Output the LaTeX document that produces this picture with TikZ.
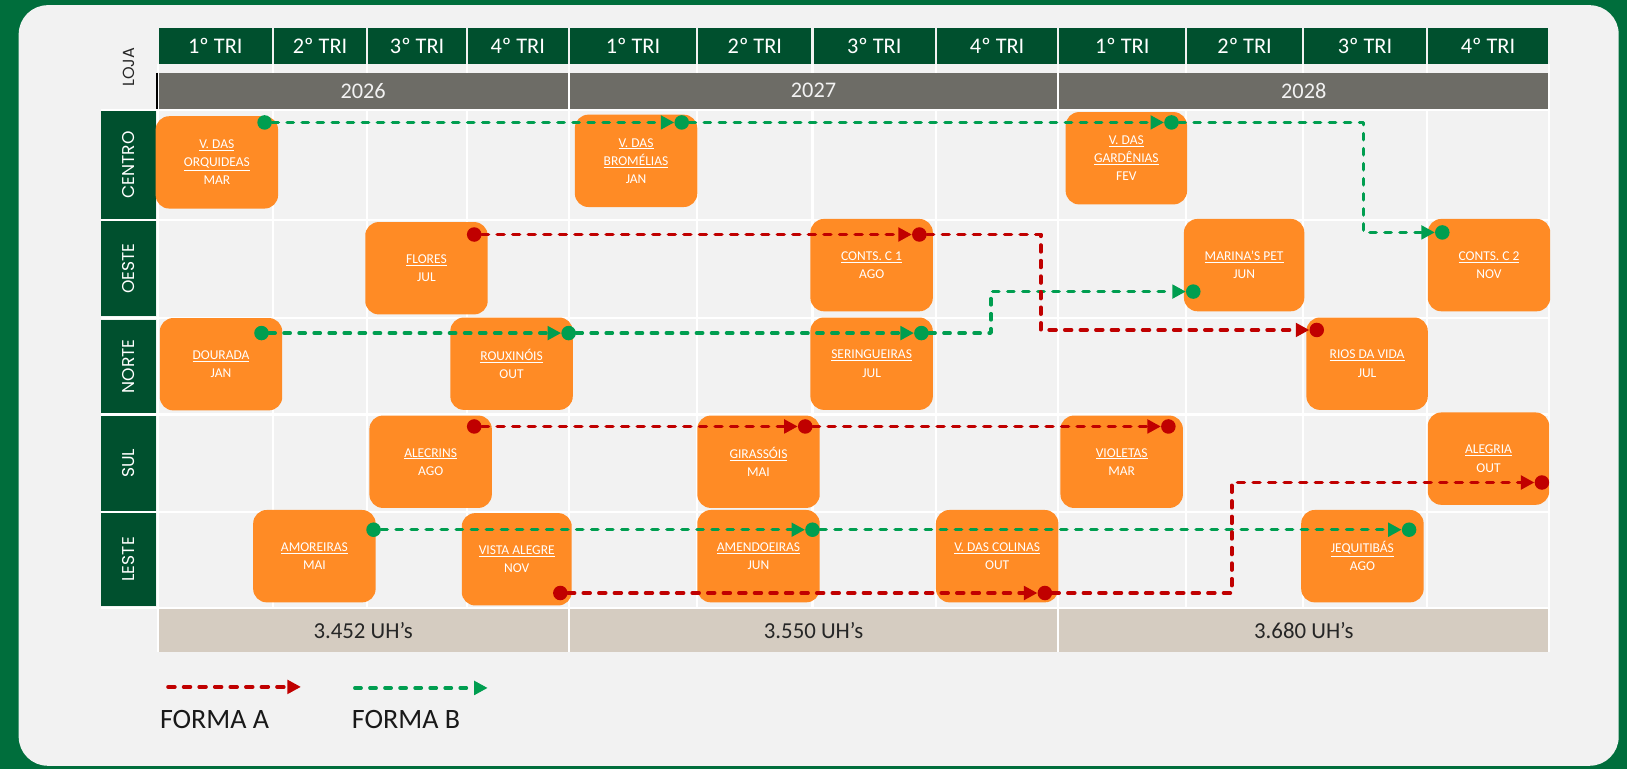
\documentclass[tikz,border=0pt]{standalone}
\usepackage{fontspec}
\setmainfont{Carlito}
\newfontfamily\geofont{Poppins}
\usetikzlibrary{arrows.meta,positioning}
\definecolor{fundo}{RGB}{0,110,60}
\definecolor{painel}{RGB}{242,242,242}
\definecolor{verdeesc}{RGB}{0,80,46}
\definecolor{cinza}{RGB}{109,108,102}
\definecolor{areia}{RGB}{213,204,193}
\definecolor{laranja}{RGB}{255,139,37}
\definecolor{verdeB}{RGB}{0,158,80}
\definecolor{vermA}{RGB}{192,0,0}

\begin{document}
\begin{tikzpicture}[
x=1pt,y=-1pt,
>={Triangle[length=13pt,width=13pt]},
tri/.style={
	fill=verdeesc,
	text=white,
	minimum height=35,
	inner sep=0pt,
	font=\fontsize{21.5}{25}\selectfont
},
ano/.style={
	fill=cinza,
	text=painel,
	minimum height=35,
	inner sep=0pt,
	font=\fontsize{21.5}{25}\selectfont
},
uh/.style={
	fill=areia,
	text=black!85,
	minimum height=41,
	inner sep=0pt,
	font=\fontsize{22}{26}\selectfont
},
regiao/.style={
	fill=verdeesc,
	text=white,
	rotate=90,
	minimum height=53,
	inner sep=0pt,
	font=\geofont\fontsize{16.5}{19}\selectfont
},
grade/.style={
	draw=white,
	line width=2pt
},
loja/.style={
	fill=laranja,
	rounded corners=13pt,
	minimum width=118,
	minimum height=89,
	text=white,
	align=center,
	inner sep=2pt,
	font=\fontsize{13}{17.5}\selectfont
},
pontoA/.style={
	circle,
	fill=vermA,
	minimum size=14,
	inner sep=0pt
},
pontoB/.style={
	circle,
	fill=verdeB,
	minimum size=14,
	inner sep=0pt
},
formaA/.style={
	draw=vermA,
	line width=3.6pt,
	dash pattern=on 6.5pt off 8.5pt,
	line cap=round,
	line join=round
},
formaB/.style={
	draw=verdeB,
	line width=3.4pt,
	dash pattern=on 6pt off 8.5pt,
	line cap=round,
	line join=round
}
]
\useasboundingbox (0,0) rectangle (1568,741);
\fill[fundo] (0,0) rectangle (1568,741);
\fill[painel,rounded corners=28pt] (18,5) rectangle (1560,738);

\foreach \x in {152,263,354,450,548,672,783,902,1020,1143,1256,1375,1493}
\draw[grade] (\x,62) -- (\x,628);
\foreach \y in {106,212,306.5,399.5,493,586}
\draw[grade] (97,\y) -- (1493,\y);

\foreach \i/\a/\b/\t in {1/152/263/1,2/263/354/2,3/354/450/3,4/450/548/4,5/548/672/1,6/672/783/2,7/783/902/3,8/902/1020/4,9/1020/1143/1,10/1143/1256/2,11/1256/1375/3,12/1375/1493/4}
\node[tri,minimum width=\b-\a-2] (q\i) at ({(\a+\b)/2},44.5) {\t{}º TRI};

\foreach \i/\a/\b/\t in {1/152/548/2026,2/548/1020/2027,3/1020/1493/2028}
\node[ano,minimum width=\b-\a-2] (ano\i) at ({(\a+\b)/2},87.5) {\t};
\draw[black,line width=2pt] (151,70) -- (151,105);

\foreach \i/\a/\b/\t in {1/152/548/3.452,2/548/1020/3.550,3/1020/1493/3.680}
\node[uh,minimum width=\b-\a-2] (uh\i) at ({(\a+\b)/2},607.5) {\t{} UH’s};

\foreach \n/\y/\h/\t in {centro/159/104/CENTRO,oeste/259/92/OESTE,norte/353/90/NORTE,sul/446.5/91/SUL,leste/539/90/LESTE}
\node[regiao,minimum width=\h] (\n) at (123.5,\y) {\t};

\node[rotate=90,text=black!85,font=\geofont\fontsize{15.5}{18}\selectfont] (lojas) at (124,65) {LOJA};

\node[loja] (orq) at (209,156.5) {\underline{V. DAS}\\\underline{ORQUIDEAS}\\MAR};
\node[loja] (brom) at (613,155) {\underline{V. DAS}\\\underline{BROMÉLIAS}\\JAN};
\node[loja,minimum width=117] (gard) at (1085.5,152.5) {\underline{V. DAS}\\\underline{GARDÊNIAS}\\FEV};
\node[loja] (flores) at (411,258.5) {\underline{FLORES}\\JUL};
\node[loja] (contsa) at (840,255.5) {\underline{CONTS. C 1}\\AGO};
\node[loja,minimum width=116] (marina) at (1199,255.5) {\underline{MARINA’S PET}\\JUN};
\node[loja] (contsb) at (1435,255.5) {\underline{CONTS. C 2}\\NOV};
\node[loja] (dourada) at (213,351) {\underline{DOURADA}\\JAN};
\node[loja] (roux) at (493,350.5) {\underline{ROUXINÓIS}\\OUT};
\node[loja] (sering) at (840,350.5) {\underline{SERINGUEIRAS}\\JUL};
\node[loja,minimum width=117] (rios) at (1317.5,350.5) {\underline{RIOS DA VIDA}\\JUL};
\node[loja] (alecrins) at (415,445) {\underline{ALECRINS}\\AGO};
\node[loja] (girassois) at (731,445) {\underline{GIRASSÓIS}\\MAI};
\node[loja] (violetas) at (1081,445) {\underline{VIOLETAS}\\MAR};
\node[loja,minimum width=117] (alegria) at (1434.5,442) {\underline{ALEGRIA}\\OUT};
\node[loja] (amoreiras) at (303,536) {\underline{AMOREIRAS}\\MAI};
\node[loja,minimum width=106] (vista) at (498,539) {\underline{VISTA ALEGRE}\\NOV};
\node[loja] (amendoeiras) at (731,536) {\underline{AMENDOEIRAS}\\JUN};
\node[loja] (colinas) at (961,536) {\underline{V. DAS COLINAS}\\OUT};
\node[loja] (jequitibas) at (1313,536) {\underline{JEQUITIBÁS}\\AGO};

\foreach \n/\x/\y in {g1/255/118,g2/657/118,g3/1129/118,g4/1390/224,g5/252/321,g6/548/321,g7/888/321,g8/1150/281,g9/360/510.5,g10/783/510.5,g11/1358/510.5}
\node[pontoB] (\n) at (\x,\y) {};
\foreach \n/\x/\y in {r1/457/226,r2/886/226,r3/1269/318,r4/457/411,r5/776/411,r6/1126/411,r7/540/571.5,r8/1007/571.5,r9/1486/465}
\node[pontoA] (\n) at (\x,\y) {};

\draw[formaB,->] (g1) -- (g2);
\draw[formaB,->] (g2) -- (g3);
\draw[formaB,->] (g3) -- ++(185,0) |- (g4);
\draw[formaB,->] (g5) -- (g6);
\draw[formaB,->] (g6) -- (g7);
\draw[formaB,->] (g7) -- ++(67,0) |- (g8);
\draw[formaB,->] (g9) -- (g10);
\draw[formaB,->] (g10) -- (g11);

\draw[formaA,->] (r1) -- (r2);
\draw[formaA,->] (r2) -- ++(117,0) |- (r3);
\draw[formaA,->] (r4) -- (r5);
\draw[formaA,->] (r5) -- (r6);
\draw[formaA,->] (r7) -- (r8);
\draw[formaA,->] (r8) -- ++(180,0) |- (r9);

\coordinate (la0) at (162,662);
\coordinate (la1) at (290,662);
\coordinate (lb0) at (342,663);
\coordinate (lb1) at (470,663);
\draw[formaA,->] (la0) -- (la1);
\draw[formaB,->] (lb0) -- (lb1);
\node[anchor=west,inner sep=0pt,font=\fontsize{27}{32}\selectfont,text=black!90] (forma) at (154,693) {FORMA A};
\node[anchor=west,inner sep=0pt,font=\fontsize{27}{32}\selectfont,text=black!90] (formb) at (339,693) {FORMA B};
\end{tikzpicture}
\end{document}
